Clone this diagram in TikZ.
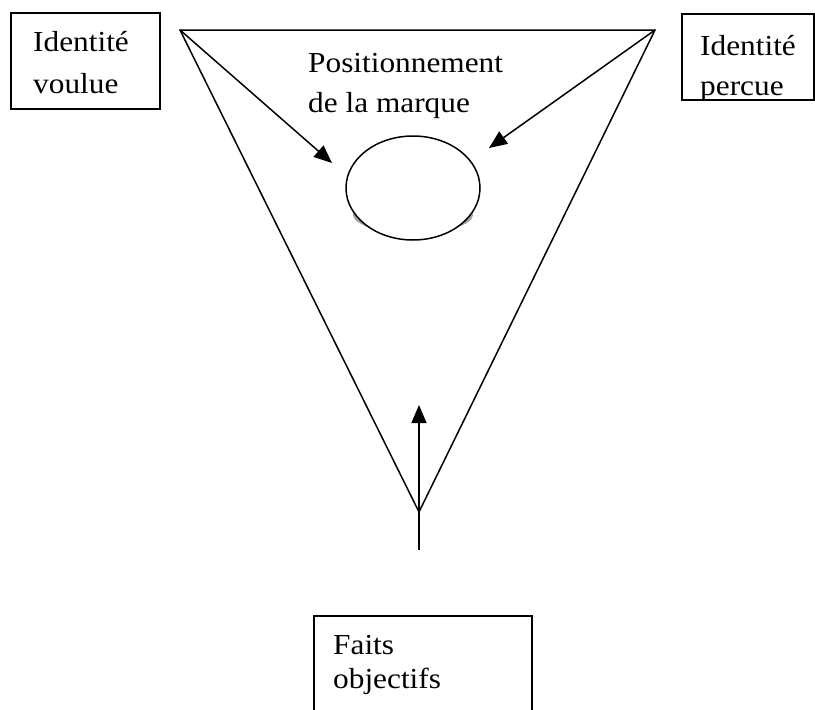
\documentclass[tikz,border=0pt]{standalone}
\usepackage{fontspec}
\setmainfont{Liberation Serif}[FakeStretch=1.08]
\usetikzlibrary{arrows.meta,shapes.geometric}
\begin{document}
\begin{tikzpicture}[x=1pt,y=-1pt,
  edge/.style={line width=1.5pt},
  arrowline/.style={edge,-{Triangle[length=18pt,width=15pt]}},
  frame/.style={draw,line width=1.5pt,rectangle,inner sep=0pt,anchor=north west},
  label/.style={inner sep=0pt,anchor=base west,font=\fontsize{29}{40}\selectfont}]
\useasboundingbox (0,0) rectangle (815,710);

% triangle corners
\coordinate (tl) at (180,30);
\coordinate (tr) at (655,30);
\coordinate (bt) at (419,512);
\draw[edge,line join=miter] (tl) -- (tr) -- (bt) -- cycle;

% brand position: ellipse with soft shadow
\fill[gray!70] (413,215) ellipse [x radius=60, y radius=18];
\node[draw,fill=white,ellipse,line width=1.5pt,minimum width=134pt,minimum height=104pt,inner sep=0pt] (pos) at (413,188) {};

% arrows towards the ellipse
\coordinate (tipl) at (332,163);
\coordinate (tipr) at (489,148);
\coordinate (base) at (419,550);
\coordinate (tipb) at (419,405);
\draw[arrowline] (tl) -- (tipl);
\draw[arrowline] (tr) -- (tipr);
\draw[arrowline] (base) -- (tipb);

% title of the ellipse
\node[label] (t1) at (308,72) {Positionnement};
\node[label] (t2) at (308,112) {de la marque};

% left box
\node[frame,minimum width=149pt,minimum height=96pt] (bl) at (10,12) {};
\node[label] (bl1) at (33,51) {Identité};
\node[label] (bl2) at (33,93) {voulue};

% right box
\node[frame,minimum width=132pt,minimum height=86pt] (br) at (681,13) {};
\begin{scope}
  \clip (681,13) rectangle (813,99);
  \node[label] (br1) at (700,55) {Identité};
  \node[label] (br2) at (700,95) {percue};
\end{scope}

% bottom box
\node[frame,minimum width=218pt,minimum height=110pt] (bb) at (313,615) {};
\node[label] (bb1) at (333,654) {Faits};
\node[label] (bb2) at (333,688) {objectifs};
\end{tikzpicture}
\end{document}
